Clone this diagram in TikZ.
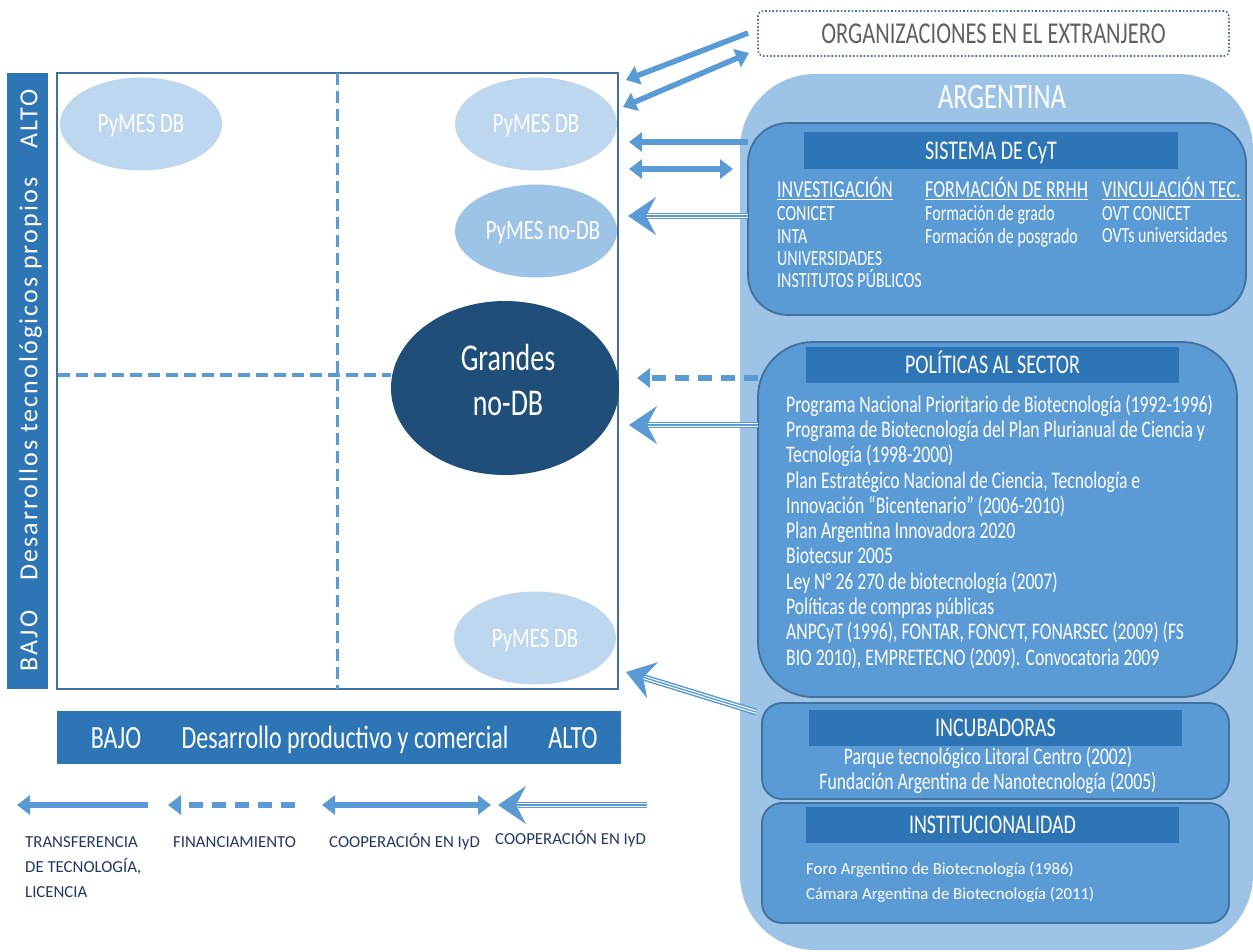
\documentclass[tikz,border=0pt]{standalone}
\usepackage{fontspec}
\setmainfont{Carlito}
\newfontfamily\cond[FakeStretch=0.74]{Carlito}
\newfontfamily\spaced[LetterSpace=8]{Carlito}
\usetikzlibrary{arrows.meta,shapes.geometric}
\newcommand{\fsz}[2]{\fontsize{#1}{#2}\selectfont}
\definecolor{ab}{HTML}{5B9BD5}
\definecolor{db}{HTML}{2E75B6}
\definecolor{bd}{HTML}{41719C}
\definecolor{lt}{HTML}{BDD7EE}
\definecolor{lm}{HTML}{9DC3E6}
\definecolor{dk}{HTML}{1F4E79}
\definecolor{nv}{HTML}{203864}
\definecolor{gy}{HTML}{606060}
\tikzset{
  boxshape/.style={inner sep=0pt, outer sep=0pt},
  hdr/.style={fill=db, inner sep=0pt, text height=17.4pt, text depth=0pt, font=\cond\fsz{27}{27}, text=white, minimum width=373pt, minimum height=36pt},
  item/.style={inner sep=0pt, text height=15.3pt, text depth=0pt, font=\cond\fsz{23.8}{23.8}, text=white, anchor=west},
  colh/.style={inner sep=0pt, text height=15.6pt, text depth=0pt, font=\cond\fsz{24.3}{24.3}, text=white, anchor=west},
  coli/.style={inner sep=0pt, text height=13.9pt, text depth=0pt, font=\cond\fsz{21.6}{21.6}, text=white, anchor=west},
  insti/.style={inner sep=0pt, text height=10.8pt, text depth=0pt, font=\fsz{16.8}{16.8}, text=white, anchor=west},
  leg/.style={inner sep=0pt, text height=10.8pt, text depth=0pt, font=\fsz{16.8}{16.8}, text=nv, anchor=west},
  elt/.style={inner sep=0pt, text height=18pt, text depth=0pt, font=\cond\fsz{28}{28}, text=white},
  bigt/.style={inner sep=0pt, text height=24.3pt, text depth=0pt, font=\cond\fsz{37.8}{37.8}, text=white},
  axt/.style={inner sep=0pt, text height=20.9pt, text depth=0pt, font=\cond\fsz{32.4}{32.4}, text=white},
  vt/.style={inner sep=0pt, text height=16.7pt, text depth=0pt, font=\spaced\fsz{26}{26}, text=white, rotate=90},
  ell/.style={ellipse, inner sep=0pt, minimum width=162pt, minimum height=93pt},
  dl/.style={draw=ab, line width=3.5pt, dash pattern=on 12pt off 6pt},
  sarr/.style={draw=ab, line width=5.5pt, -{Triangle[length=13pt,width=19pt]}},
  darr/.style={draw=ab, line width=5.5pt, {Triangle[length=13pt,width=19pt]}-{Triangle[length=13pt,width=19pt]}},
  dsarr/.style={sarr, dash pattern=on 14pt off 9pt},
  tri/.style={draw=ab, line width=1.3pt, -{Stealth[length=28pt,width=38pt,inset=10pt]},
    preaction={draw=ab, -, double=white, double distance=3.6pt, line width=1.5pt, shorten >=17pt}}
}
\begin{document}
\begin{tikzpicture}[x=1pt,y=-1pt]
\useasboundingbox (0,0) rectangle (1253,952);
\begin{scope}
\clip (0,0) rectangle (1253,952);
% Argentina
\node[boxshape, fill=lm, rounded corners=75pt, minimum width=513pt, minimum height=876pt] (arg) at (996.5,512) {};
\end{scope}
\node[inner sep=0pt, text height=23pt, text depth=0pt, font=\cond\fsz{35.7}{35.7}, text=white] (argt) at (1002,97) {ARGENTINA};

% Organizaciones
\node[boxshape, draw=bd, dotted, line width=1.6pt, rounded corners=5pt, minimum width=471pt, minimum height=45pt, text=gy, font=\cond\fsz{30.3}{30.3}, text height=19.5pt, text depth=0pt] (org) at (993.5,33.5) {ORGANIZACIONES EN EL EXTRANJERO};

% Sistema CyT
\node[boxshape, draw=bd, line width=1.8pt, fill=ab, rounded corners=40pt, minimum width=498pt, minimum height=192pt] (cyt) at (997,219) {};
\node[hdr, minimum width=374pt, minimum height=37pt] (cyth) at (991,150.5) {SISTEMA DE CyT};
\node[colh] (c1) at (777,190) {\underline{INVESTIGACIÓN}};
\node[colh] (c2) at (925,190) {\underline{FORMACIÓN DE RRHH}};
\node[colh] (c3) at (1102,190) {\underline{VINCULACIÓN TEC.}};
\node[coli] (c1a) at (777,214) {CONICET};
\node[coli] (c1b) at (777,236.5) {INTA};
\node[coli] (c1c) at (777,258.5) {UNIVERSIDADES};
\node[coli] (c1d) at (777,280.5) {INSTITUTOS PÚBLICOS};
\node[coli] (c2a) at (925,214) {Formación de grado};
\node[coli] (c2b) at (925,236.5) {Formación de posgrado};
\node[coli] (c3a) at (1102,213.5) {OVT CONICET};
\node[coli] (c3b) at (1102,236) {OVTs universidades};

% Politicas
\node[boxshape, draw=bd, line width=1.8pt, fill=ab, rounded corners=55pt, minimum width=479pt, minimum height=355pt] (pol) at (997.5,519.5) {};
\node[hdr] (polh) at (992.5,365) {POLÍTICAS AL SECTOR};
\node[item] (pl1) at (786,405) {Programa Nacional Prioritario de Biotecnología (1992-1996)};
\node[item] (pl2) at (786,430) {Programa de Biotecnología del Plan Plurianual de Ciencia y};
\node[item] (pl3) at (786,455) {Tecnología (1998-2000)};
\node[item] (pl4) at (786,480.5) {Plan Estratégico Nacional de Ciencia, Tecnología e};
\node[item] (pl5) at (786,505.5) {Innovación “Bicentenario” (2006-2010)};
\node[item] (pl6) at (786,531) {Plan Argentina Innovadora 2020};
\node[item] (pl7) at (786,556) {Biotecsur 2005};
\node[item] (pl8) at (786,581.5) {Ley N° 26 270 de biotecnología (2007)};
\node[item] (pl9) at (786,607) {Políticas de compras públicas};
\node[item] (pl10) at (786,632) {ANPCyT (1996), FONTAR, FONCYT, FONARSEC (2009) (FS};
\node[item] (pl11) at (786,657.5) {BIO 2010), EMPRETECNO (2009). Convocatoria 2009};

% Incubadoras
\node[boxshape, draw=bd, line width=1.8pt, fill=ab, rounded corners=20pt, minimum width=467pt, minimum height=96pt] (inc) at (995.5,751) {};
\node[hdr] (inch) at (995.5,728) {INCUBADORAS};
\node[item, anchor=center] (inc1) at (988,757) {Parque tecnológico Litoral Centro (2002)};
\node[item, anchor=center] (inc2) at (988,782) {Fundación Argentina de Nanotecnología (2005)};

% Institucionalidad
\node[boxshape, draw=bd, line width=1.8pt, fill=ab, rounded corners=20pt, minimum width=467pt, minimum height=120pt] (ins) at (995.5,863) {};
\node[hdr] (insh) at (992.5,825) {INSTITUCIONALIDAD};
\node[insti] (ins1) at (806,869) {Foro Argentino de Biotecnología (1986)};
\node[insti] (ins2) at (806,894) {Cámara Argentina de Biotecnología (2011)};

% Left vertical axis
\node[boxshape, fill=db, minimum width=41pt, minimum height=616pt] (vbar) at (27.5,381) {};
\node[vt] (vt1) at (29,119) {ALTO};
\node[vt] (vt2) at (29,379) {Desarrollos tecnológicos propios};
\node[vt] (vt3) at (29,641) {BAJO};

% Matrix square
\node[boxshape, draw=bd, line width=1.8pt, minimum width=561pt, minimum height=616pt] (sq) at (337.5,381) {};
\draw[dl] (sq.north) -- (sq.south);

% Ellipses
\node[ell, fill=lt, elt] (e1) at (141,124) {PyMES DB};
\node[ell, fill=lt, elt] (e2) at (536,124) {PyMES DB};
\node[ell, fill=lm] (e3) at (536,231) {};
\node[elt] (e3t) at (543,231) {PyMES no-DB};
\node[ellipse, inner sep=0pt, fill=dk, minimum width=228pt, minimum height=174pt] (gr) at (505,388) {};
\node[bigt] (gr1) at (508,358) {Grandes};
\node[bigt] (gr2) at (508,403) {no-DB};
\node[ell, fill=lt, elt] (e4) at (535,638) {PyMES DB};
\coordinate (hl) at (58,375);
\draw[dl] (hl) -- (hl -| gr.west);

% Bottom axis
\node[boxshape, fill=db, minimum width=564pt, minimum height=53pt] (hbar) at (339,737.5) {};
\node[axt] (h1) at (116,738) {BAJO};
\node[axt] (h2) at (345,738) {Desarrollo productivo y comercial};
\node[axt] (h3) at (573,738) {ALTO};

% Connectors
\coordinate (a1s) at (748,33);  \coordinate (a1e) at (626,80);
\coordinate (a2s) at (623,107); \coordinate (a2e) at (749,53);
\coordinate (a3s) at (cyt.west |- 0,142); \coordinate (a3e) at (629,142);
\coordinate (a4s) at (629,169); \coordinate (a4e) at (733,169);
\coordinate (a5s) at (cyt.west |- 0,216); \coordinate (a5e) at (628,216);
\coordinate (a6s) at (758,378); \coordinate (a6e) at (637,378);
\coordinate (a7s) at (758,425); \coordinate (a7e) at (629,425);
\coordinate (a8s) at (756,712); \coordinate (a8e) at (626,672);
\draw[sarr] (a1s) -- (a1e);
\draw[darr] (a2s) -- (a2e);
\draw[sarr] (a3s) -- (a3e);
\draw[darr] (a4s) -- (a4e);
\draw[tri] (a5s) -- (a5e);
\draw[dsarr] (a6s) -- (a6e);
\draw[tri] (a7s) -- (a7e);
\draw[tri] (a8s) -- (a8e);

% Legend
\coordinate (l1s) at (148,805); \coordinate (l1e) at (17,805);
\coordinate (l2s) at (295,805); \coordinate (l2e) at (168,805);
\coordinate (l3s) at (322,805); \coordinate (l3e) at (491,805);
\coordinate (l4s) at (647,805); \coordinate (l4e) at (498,805);
\draw[sarr] (l1s) -- (l1e);
\draw[dsarr] (l2s) -- (l2e);
\draw[darr] (l3s) -- (l3e);
\draw[tri] (l4s) -- (l4e);
\node[inner sep=0pt, anchor=north west, align=left, font=\fsz{16.8}{25}, text=nv] (lg1) at (25,836.5) {TRANSFERENCIA\\DE TECNOLOGÍA,\\LICENCIA};
\node[leg] (lg2) at (173,842) {FINANCIAMIENTO};
\node[leg] (lg3) at (329,842) {COOPERACIÓN EN IyD};
\node[leg] (lg4) at (495,839) {COOPERACIÓN EN IyD};
\end{tikzpicture}
\end{document}
